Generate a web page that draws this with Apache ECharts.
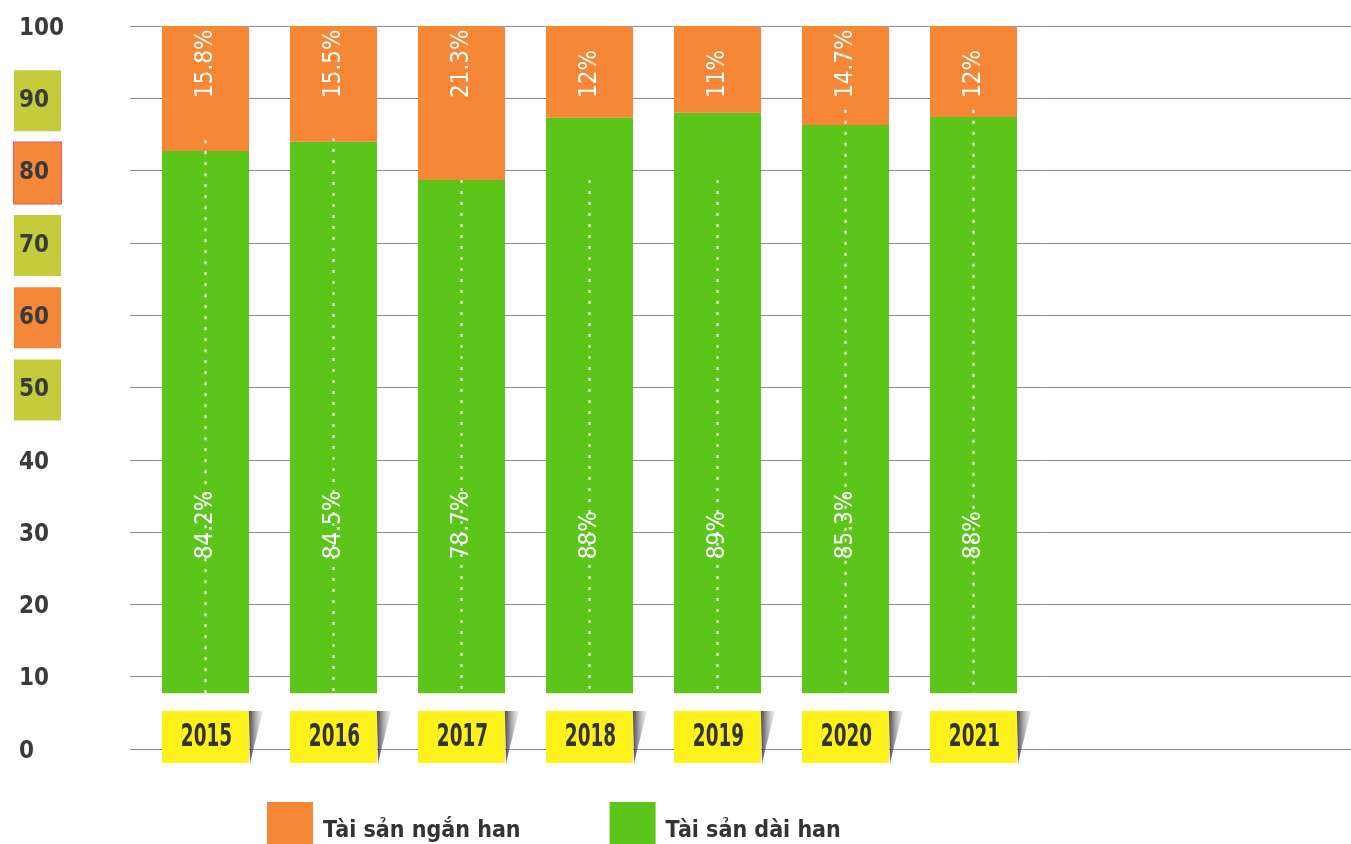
<!DOCTYPE html>
<html>
<head>
<meta charset="utf-8">
<script src="https://cdn.jsdelivr.net/npm/echarts@6/dist/echarts.min.js"></script>
<style>
  html, body { margin: 0; padding: 0; background: #fff; }
  #main { width: 1351px; height: 844px; }
</style>
</head>
<body>
<div id="main"></div>
<script>
// du lieu doc tu hinh
var years = ['2015', '2016', '2017', '2018', '2019', '2020', '2021'];
var shortLabels = ['15.8%', '15.5%', '21.3%', '12%', '11%', '14.7%', '12%'];
var longLabels = ['84.2%', '84.5%', '78.7%', '88%', '89%', '85.3%', '88%'];
var barBase = [7.7, 7.7, 7.7, 7.7, 7.7, 7.7, 7.7];
var longValues = [75.0, 76.3, 71.0, 79.6, 80.3, 78.6, 79.7];   // phan xanh (tren nen)
var shortValues = [17.3, 16.0, 21.3, 12.7, 12.0, 13.7, 12.6];  // phan cam
var dotTop = [84.2, 84.5, 78.7, 78.7, 78.7, 88.4, 88.4];
var yMin = 0, yMax = 100, yStep = 10;

var FONT = '"Liberation Sans Narrow", "DejaVu Sans Condensed", Roboto, sans-serif';
var tickBox = { 90: 'g', 80: 'r', 70: 'g', 60: 'o', 50: 'g' };

var myChart = echarts.init(document.getElementById('main'));

function boxStyle(bg, border) {
  return {
    width: 42, height: 61, lineHeight: 61, padding: [0, 0, 0, 5],
    backgroundColor: bg, borderColor: border || bg, borderWidth: border ? 1 : 0,
    fontSize: 24, fontWeight: 'bold', fontFamily: FONT, color: '#3a3a3a', align: 'left'
  };
}

// o nam mau vang + bong
function renderYear(params, api) {
  var idx = api.value(0);
  var p = api.coord([idx, 0]);
  var w = 87, h = 52;
  var left = p[0] - w / 2, top = p[1] - 38;
  return {
    type: 'group',
    children: [
      {
        type: 'polygon',
        shape: { points: [[left + w, top], [left + w + 14, top], [left + w + 1, top + h]] },
        style: {
          fill: new echarts.graphic.LinearGradient(0, 0, 1, 0, [
            { offset: 0, color: 'rgba(50,50,50,0.9)' },
            { offset: 1, color: 'rgba(160,160,160,0.15)' }
          ])
        }
      },
      { type: 'rect', shape: { x: left, y: top, width: w, height: h }, style: { fill: '#fff21a' } },
      {
        type: 'text', x: p[0] + 1, y: top + h / 2 + 1, scaleX: 0.64,
        style: {
          text: years[idx], font: 'bold 32px ' + FONT, fill: '#333333',
          align: 'center', verticalAlign: 'middle'
        }
      }
    ]
  };
}

// duong cham trang giua cot
function renderDots(params, api) {
  var idx = api.value(0);
  var a = api.coord([idx, api.value(1)]);
  var b = api.coord([idx, barBase[idx]]);
  return {
    type: 'line',
    shape: { x1: a[0], y1: a[1], x2: b[0], y2: b[1] },
    style: { stroke: '#ffffff', lineWidth: 2, lineDash: [3, 8] }
  };
}

var option = {
  animation: false,
  grid: [
    { left: 130, right: 0, top: 26, bottom: 95, outerBoundsMode: 'none' },
    { left: 141.5, width: 896, top: 26, bottom: 95, outerBoundsMode: 'none' }
  ],
  legend: {
    data: ['Tài sản ngắn han', 'Tài sản dài han'],
    left: 267, top: 802, padding: 0,
    itemWidth: 46, itemHeight: 58, itemGap: 89, itemTextGap: 10, icon: 'rect',
    textStyle: { fontSize: 23, fontWeight: 'bold', fontFamily: FONT, color: '#333333', padding: [6, 0, 0, 5] }
  },
  xAxis: [
    { gridIndex: 0, type: 'category', data: [], show: false },
    { gridIndex: 1, type: 'category', data: years, show: false }
  ],
  yAxis: [
    {
      gridIndex: 0, type: 'value', min: yMin, max: yMax, interval: yStep,
      axisLine: { show: false }, axisTick: { show: false },
      splitLine: { lineStyle: { color: '#8c8c8c', width: 1 } },
      axisLabel: {
        margin: 116, align: 'left', padding: [5, 0, 0, 0],
        formatter: function (v) { return '{' + (tickBox[v] || 'n') + '|' + v + '}'; },
        rich: {
          n: boxStyle('transparent'),
          g: boxStyle('#c5cc3b'),
          o: boxStyle('#f5873a'),
          r: boxStyle('#f5873a', '#e25a78')
        }
      }
    },
    { gridIndex: 1, type: 'value', min: yMin, max: yMax, show: false, splitLine: { show: false } }
  ],
  series: [
    {
      name: 'base', type: 'bar', stack: 'a', xAxisIndex: 1, yAxisIndex: 1,
      barWidth: 87, data: barBase, itemStyle: { color: 'transparent' }, silent: true
    },
    {
      name: 'Tài sản dài han', type: 'bar', stack: 'a', xAxisIndex: 1, yAxisIndex: 1,
      barWidth: 87, data: longValues, itemStyle: { color: '#5bc51a' },
      label: {
        show: true, position: 'insideBottom', distance: 134, rotate: 90,
        align: 'left', verticalAlign: 'middle',
        formatter: function (p) { return longLabels[p.dataIndex]; },
        fontSize: 24, fontFamily: FONT, color: '#ffffff'
      }
    },
    {
      name: 'Tài sản ngắn han', type: 'bar', stack: 'a', xAxisIndex: 1, yAxisIndex: 1,
      barWidth: 87, data: shortValues, itemStyle: { color: '#f58736' },
      label: {
        show: true, position: 'insideTop', distance: 72, rotate: 90,
        align: 'left', verticalAlign: 'middle',
        formatter: function (p) { return shortLabels[p.dataIndex]; },
        fontSize: 24, fontFamily: FONT, color: '#ffffff'
      }
    },
    {
      type: 'custom', xAxisIndex: 1, yAxisIndex: 1, z: 4,
      renderItem: renderDots,
      data: years.map(function (y, i) { return [i, dotTop[i]]; }),
      encode: { x: 0, y: 1 }, silent: true
    },
    {
      type: 'custom', xAxisIndex: 1, yAxisIndex: 1, z: 5,
      renderItem: renderYear,
      data: years.map(function (y, i) { return [i, 0]; }),
      encode: { x: 0, y: 1 }, silent: true
    }
  ]
};

myChart.setOption(option);
</script>
</body>
</html>
